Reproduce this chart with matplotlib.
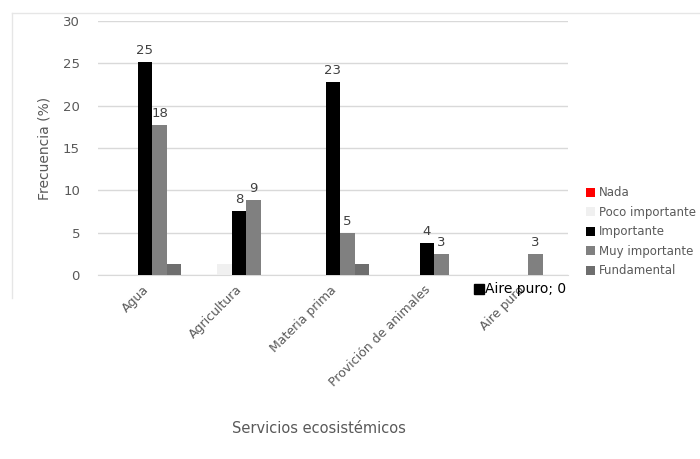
import numpy as np
import matplotlib
matplotlib.use('Agg')
import matplotlib.pyplot as plt
from matplotlib.lines import Line2D

plt.rcParams['font.family'] = ['Liberation Sans Narrow', 'DejaVu Sans']

# datos
categorias = ['Agua', 'Agricultura', 'Materia prima', 'Provición de animales', 'Aire puro']
series = ['Nada', 'Poco importante', 'Importante', 'Muy importante', 'Fundamental']
nada = [0, 0, 0, 0, 0]
poco = [0, 1.26, 0, 0, 0]
importante = [25.2, 7.6, 22.8, 3.8, 0]
muy = [17.7, 8.8, 5.0, 2.5, 2.5]
fundamental = [1.26, 0, 1.26, 0, 0]
etiquetas_imp = ['25', '8', '23', '4', None]
etiquetas_muy = ['18', '9', '5', '3', '3']

colores = ['#ff0000', '#f0f0f0', '#000000', '#808080', '#6e6e6e']
valores = [nada, poco, importante, muy, fundamental]
txt = '#595959'

fig = plt.figure(figsize=(7, 4.59), dpi=100)
ax = fig.add_axes([0.14, 0.4009, 0.671, 0.5533])

x = np.arange(len(categorias))
w = 0.155
handles = []
for i, (nombre, vals, c) in enumerate(zip(series, valores, colores)):
    bars = ax.bar(x + (i - 2) * w, vals, w, color=c, label=nombre, zorder=3)
    handles.append(bars)
    if nombre == 'Importante':
        for b, t in zip(bars, etiquetas_imp):
            if t:
                ax.text(b.get_x() + b.get_width() / 2, b.get_height() + 0.6, t,
                        ha='center', va='bottom', fontsize=9.5, color='#404040')
    if nombre == 'Muy importante':
        for b, t in zip(bars, etiquetas_muy):
            ax.text(b.get_x() + b.get_width() / 2, b.get_height() + 0.6, t,
                    ha='center', va='bottom', fontsize=9.5, color='#404040')

ax.set_xlim(-0.5, len(categorias) - 0.5)
ax.set_ylim(0, 30)
ax.set_yticks(range(0, 31, 5))
ax.yaxis.grid(True, color='#d9d9d9', linewidth=1, zorder=0)
for s in ['top', 'right', 'left']:
    ax.spines[s].set_visible(False)
ax.spines['bottom'].set_color('#d9d9d9')
ax.tick_params(length=0, labelsize=9.5, labelcolor=txt)
ax.tick_params(axis='y', pad=13)
ax.set_xticks(x - 0.03)
ax.set_xticklabels(categorias, rotation=45, ha='right', rotation_mode='anchor', fontsize=9)
ax.tick_params(axis='x', pad=6)

ax.set_ylabel('Frecuencia (%)', fontsize=10, color=txt)
ax.yaxis.set_label_coords(-0.10, 0.5)
ax.set_xlabel('Servicios ecosistémicos', fontsize=10.5, color=txt)
ax.xaxis.set_label_coords(0.47, -0.575)

# etiqueta suelta de la serie Importante en Aire puro
ax.plot([3.56], [-1.7], marker='s', color='black', markersize=7, clip_on=False, zorder=5)
ax.text(3.62, -1.7, 'Aire puro; 0', fontsize=10, color='black', va='center',
        ha='left', clip_on=False, zorder=5)

leg = fig.legend(handles=handles, labels=series, loc='upper left',
                 bbox_to_anchor=(0.822, 0.617), frameon=False, fontsize=8.5,
                 handlelength=0.8, handleheight=0.8, handletextpad=0.3,
                 labelspacing=0.55, labelcolor=txt)

# borde del grafico
fig.add_artist(Line2D([12 / 700, 1], [1 - 13 / 459] * 2, color='#e6e6e6', lw=1))
fig.add_artist(Line2D([12 / 700] * 2, [1 - 13 / 459, 1 - 298 / 459], color='#e6e6e6', lw=1))

fig.savefig('out.png', dpi=100)
